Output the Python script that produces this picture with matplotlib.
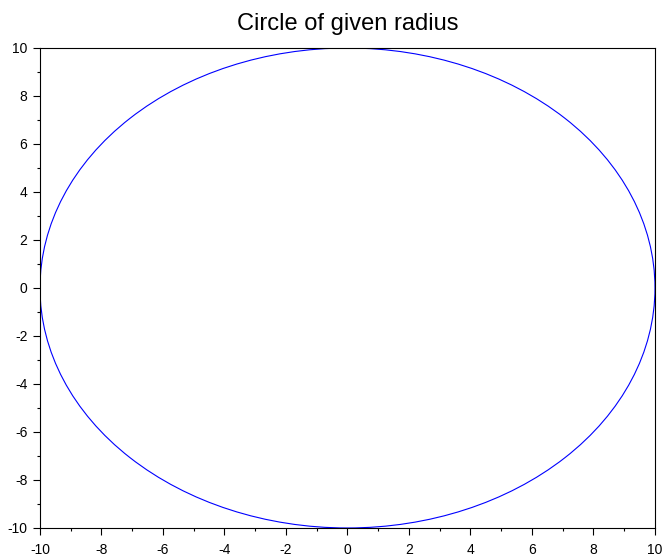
import matplotlib
matplotlib.use("Agg")
from matplotlib import pyplot as plt
from matplotlib.patches import Circle
from matplotlib.ticker import MultipleLocator

# circle to draw
center = (0, 0)
radius = 10

# axis ticks
major_ticks = [-10, -8, -6, -4, -2, 0, 2, 4, 6, 8, 10]

plt.rcParams['font.family'] = ['Liberation Sans', 'DejaVu Sans']
plt.rcParams['axes.unicode_minus'] = False

fig = plt.figure(figsize=(6.62, 5.58), dpi=100)
ax = fig.add_axes([0.0604, 0.0538, 0.9290, 0.8602])

circle = Circle(center, radius, fill=False, edgecolor='#0000ff', linewidth=0.8)
ax.add_patch(circle)

ax.set_xlim(-radius, radius)
ax.set_ylim(-radius, radius)
ax.set_xticks(major_ticks)
ax.set_yticks(major_ticks)
ax.xaxis.set_minor_locator(MultipleLocator(1))
ax.yaxis.set_minor_locator(MultipleLocator(1))

ax.tick_params(which='major', direction='out', length=5, width=0.8, labelsize=10)
ax.tick_params(axis='x', which='major', pad=6)
ax.tick_params(axis='y', which='major', pad=4)
ax.tick_params(which='minor', direction='out', length=2.5, width=0.8)
ax.tick_params(top=False, right=False, which='both')

for s in ax.spines.values():
    s.set_linewidth(0.8)

ax.set_title("Circle of given radius", fontsize=17, pad=13)

plt.savefig("out.png", dpi=100)
